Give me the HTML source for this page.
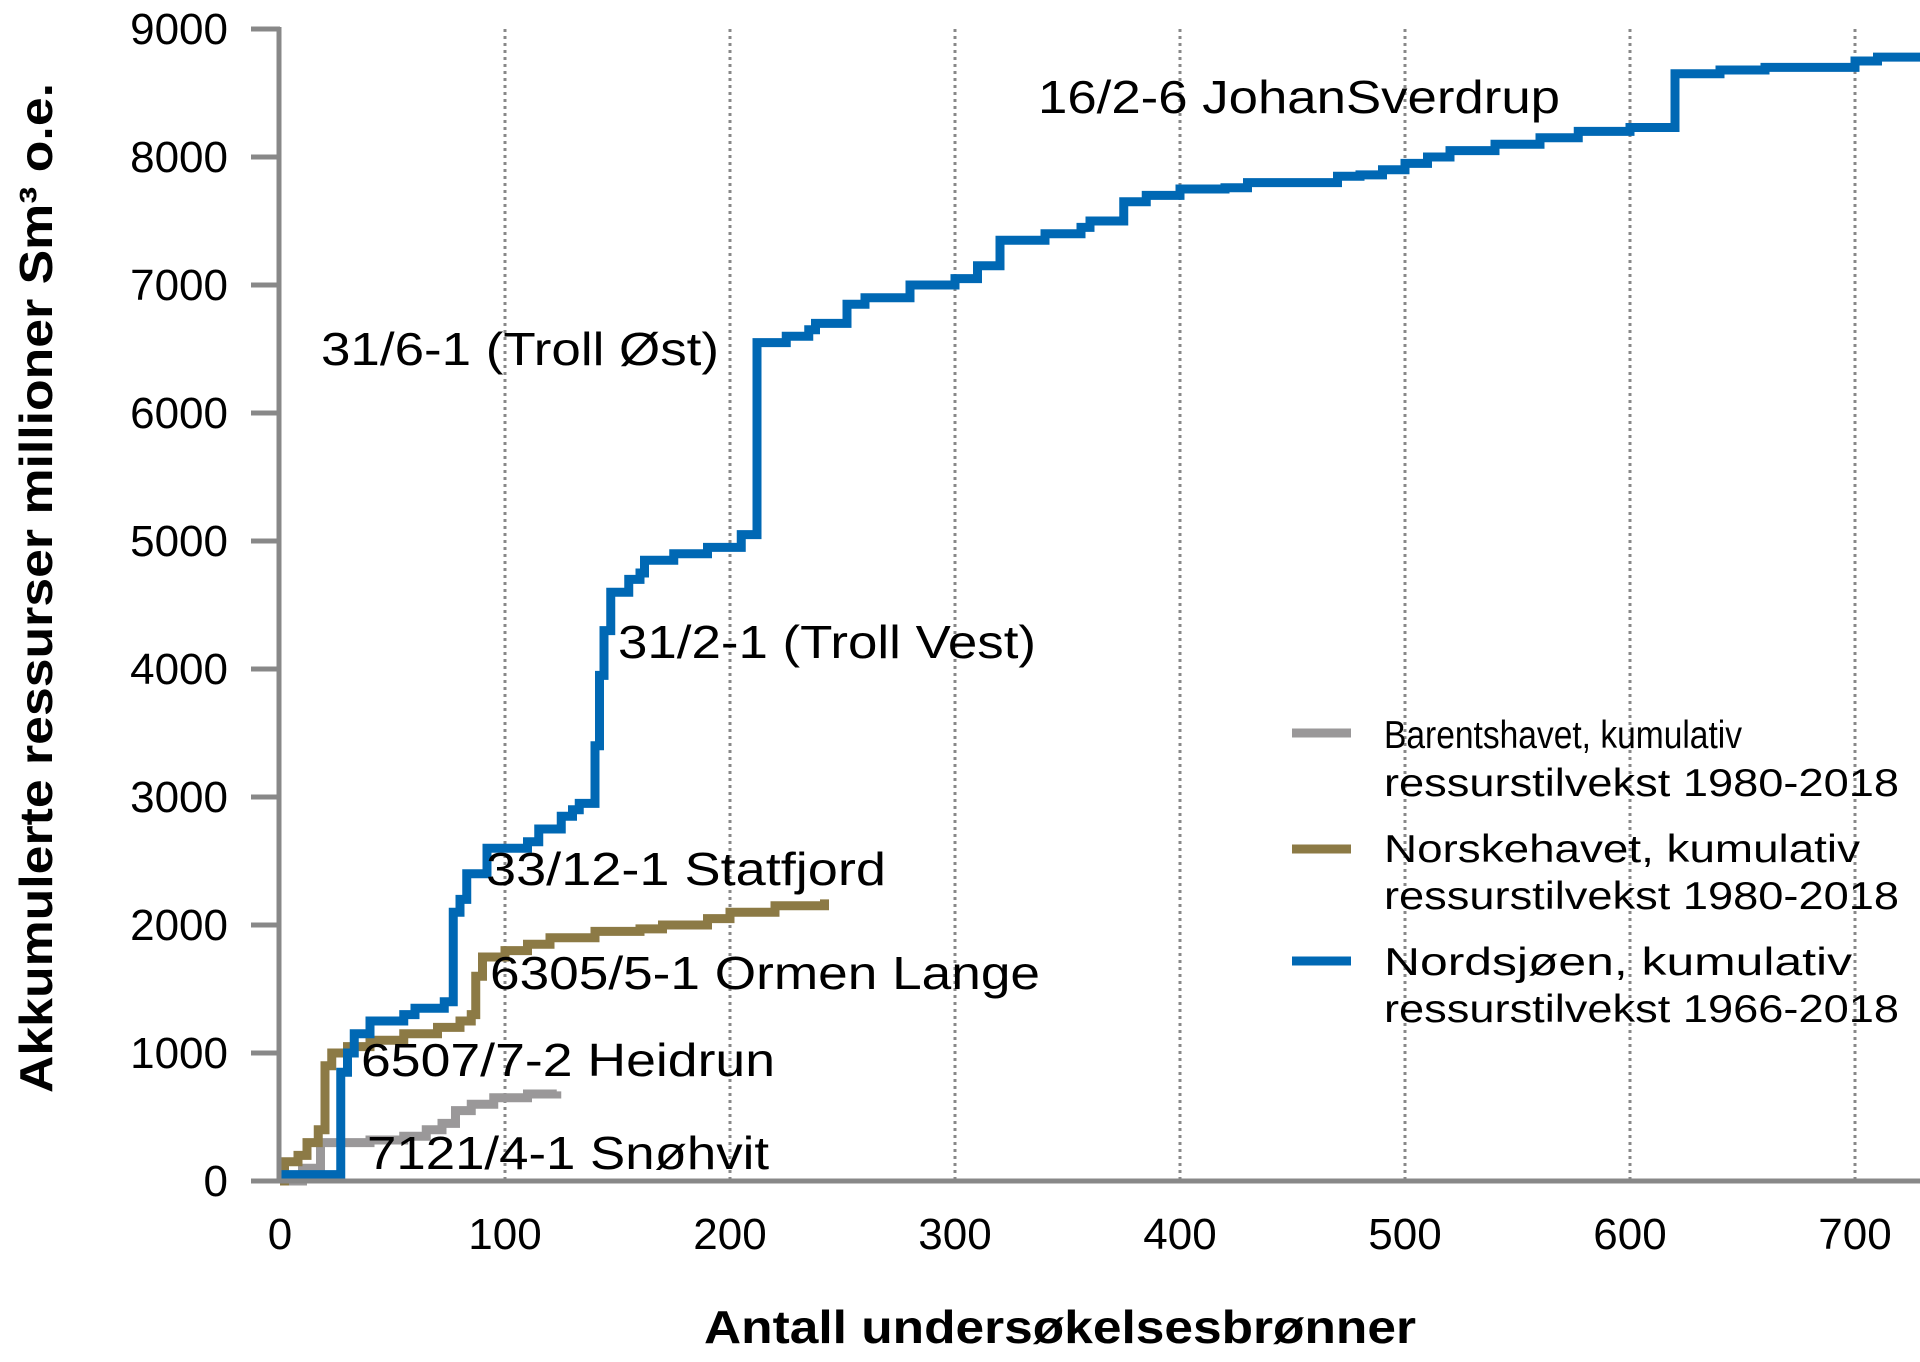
<!DOCTYPE html>
<html><head><meta charset="utf-8"><style>
body{margin:0;background:#fff}
svg{display:block;font-family:"Liberation Sans",sans-serif}
</style></head><body>
<svg id="chart" width="1920" height="1362" viewBox="0 0 1920 1362">
<g id="grid"></g>
<g id="series"></g>
<g id="axes"></g>
<g font-size="46" fill="#000">
<text x="1038" y="113" textLength="522" lengthAdjust="spacingAndGlyphs">16/2-6 JohanSverdrup</text>
<text x="321" y="365" textLength="398" lengthAdjust="spacingAndGlyphs">31/6-1 (Troll Øst)</text>
<text x="618" y="658" textLength="418" lengthAdjust="spacingAndGlyphs">31/2-1 (Troll Vest)</text>
<text x="486" y="885" textLength="400" lengthAdjust="spacingAndGlyphs">33/12-1 Statfjord</text>
<text x="490" y="989" textLength="550" lengthAdjust="spacingAndGlyphs">6305/5-1 Ormen Lange</text>
<text x="361" y="1076" textLength="414" lengthAdjust="spacingAndGlyphs">6507/7-2 Heidrun</text>
<text x="367" y="1169" textLength="402" lengthAdjust="spacingAndGlyphs">7121/4-1 Snøhvit</text>
</g>
<g font-size="39" fill="#000">
<line x1="1292" y1="733" x2="1351" y2="733" stroke="#9a9899" stroke-width="9"/>
<text x="1384" y="748" textLength="358" lengthAdjust="spacingAndGlyphs">Barentshavet, kumulativ</text>
<text x="1384" y="796" textLength="515" lengthAdjust="spacingAndGlyphs">ressurstilvekst 1980-2018</text>
<line x1="1292" y1="849" x2="1351" y2="849" stroke="#8c7a45" stroke-width="9"/>
<text x="1384" y="862" textLength="476" lengthAdjust="spacingAndGlyphs">Norskehavet, kumulativ</text>
<text x="1384" y="909" textLength="515" lengthAdjust="spacingAndGlyphs">ressurstilvekst 1980-2018</text>
<line x1="1292" y1="961" x2="1351" y2="961" stroke="#0068b4" stroke-width="9"/>
<text x="1384" y="975" textLength="468" lengthAdjust="spacingAndGlyphs">Nordsjøen, kumulativ</text>
<text x="1384" y="1022" textLength="515" lengthAdjust="spacingAndGlyphs">ressurstilvekst 1966-2018</text>
</g>
<text x="1060" y="1343" text-anchor="middle" font-size="46" font-weight="bold" textLength="712" lengthAdjust="spacingAndGlyphs">Antall undersøkelsesbrønner</text>
<text transform="translate(52,588) rotate(-90)" text-anchor="middle" font-size="46" font-weight="bold" textLength="1010" lengthAdjust="spacingAndGlyphs">Akkumulerte ressurser millioner Sm³ o.e.</text>
</svg>
<script>
const xTicks=[0,100,200,300,400,500,600,700];
const yTicks=[0,1000,2000,3000,4000,5000,6000,7000,8000,9000];
const nordX=[0,2,27,30,33,40,55,60,73,77,80,83,92,110,115,125,130,133,140,142,144,147,155,160,162,175,190,205,212,225,235,238,252,260,280,300,310,320,340,356,360,375,385,400,420,430,470,480,490,500,510,520,540,560,577,600,620,640,660,700,710,730];
const nordY=[50,100,850,1000,1150,1250,1300,1350,1400,2100,2200,2400,2600,2650,2750,2850,2900,2950,3400,3950,4300,4600,4700,4750,4850,4900,4950,5050,6550,6600,6650,6700,6850,6900,7000,7050,7150,7350,7400,7450,7500,7650,7700,7750,7760,7800,7850,7860,7900,7950,8000,8050,8100,8150,8200,8230,8650,8680,8700,8750,8780,8800,8850,8850].slice(0,0);
const nordVals=[50,850,1000,1150,1250,1300,1350,1400,2100,2200,2400,2600,2650,2750,2850,2900,2950,3400,3950,4300,4600,4700,4750,4850,4900,4950,5050,6550,6600,6650,6700,6850,6900,7000,7050,7150,7350,7400,7450,7500,7650,7700,7750,7760,7800,7850,7860,7900,7950,8000,8050,8100,8150,8200,8230,8650,8680,8700,8750,8780,8800,8850];
const norskX=[0,2,8,12,17,20,23,30,40,55,70,80,85,87,90,100,110,120,140,160,170,190,200,220,242];
const norskVals=[0,150,200,300,400,900,1000,1050,1100,1150,1200,1250,1300,1600,1750,1800,1850,1900,1950,1970,2000,2050,2100,2150,2200];
const barX=[0,10,18,40,55,65,72,78,85,95,110,123];
const barVals=[0,100,300,320,350,400,450,550,600,650,680,700];

const X0=280,XS=2.25,Y0=1181,YS=0.128;
const sx=v=>X0+v*XS, sy=v=>Y0-v*YS;
const NS="http://www.w3.org/2000/svg";
function mk(tag,parent,attrs){const e=document.createElementNS(NS,tag);for(const k in attrs)e.setAttribute(k,attrs[k]);parent.appendChild(e);return e;}
const grid=document.getElementById('grid'),axes=document.getElementById('axes'),ser=document.getElementById('series');
xTicks.forEach(t=>{
  if(t>0){const g=mk('line',grid,{x1:sx(t),x2:sx(t),y1:sy(9000),y2:Y0,stroke:'#888','stroke-width':3,'stroke-dasharray':'3 4'});
  
  }
  const l=mk('text',axes,{x:sx(t),y:1249,'text-anchor':'middle','font-size':44});
  l.textContent=t;
  
  
});
yTicks.forEach(t=>{
  const tk=mk('line',axes,{x1:251,x2:280,y1:sy(t),y2:sy(t),stroke:'#888','stroke-width':5});
  
  
  const l=mk('text',axes,{x:228,y:sy(t)+15,'text-anchor':'end','font-size':44});
  l.textContent=t;
  
  
});
const ya=mk('line',axes,{x1:279,x2:279,y1:sy(9000)-2,y2:Y0,stroke:'#888','stroke-width':5});


const xa=mk('line',axes,{x1:277,x2:1920,y1:Y0,y2:Y0,stroke:'#888','stroke-width':5});


function step(xs,ys){let d='M'+sx(xs[0])+','+sy(ys[0]);for(let i=1;i<xs.length;i++){d+=' H'+sx(xs[i])+' V'+sy(ys[i]);}return d;}
const nx=[0].concat(nordX.slice(2));
const pb=mk('path',ser,{d:step(barX,barVals),fill:'none',stroke:'#9a9899','stroke-width':9});


const pn=mk('path',ser,{d:step(norskX,norskVals),fill:'none',stroke:'#8c7a45','stroke-width':9});


const pd=mk('path',ser,{d:step(nx,nordVals),fill:'none',stroke:'#0068b4','stroke-width':9});


</script>
</body></html>
